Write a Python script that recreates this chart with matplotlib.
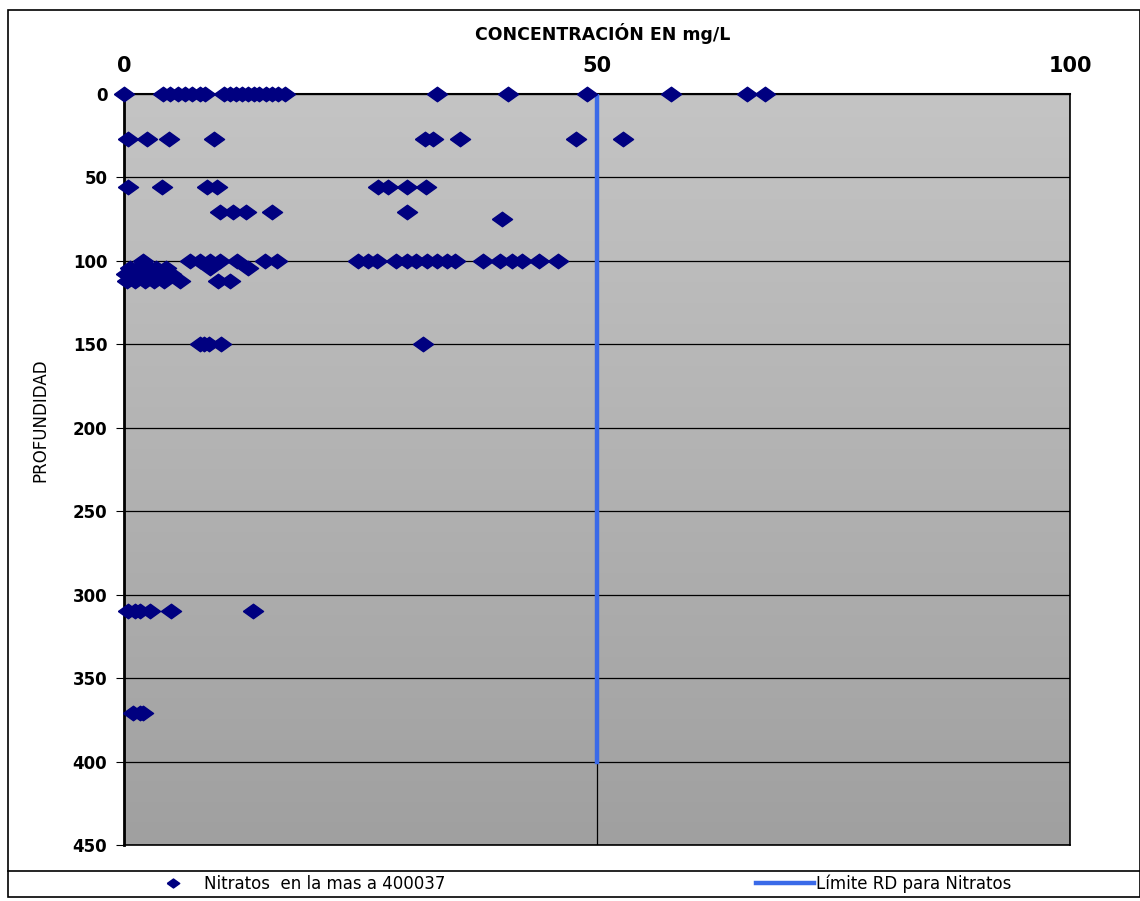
import matplotlib.pyplot as plt
import numpy as np
from matplotlib.lines import Line2D
from matplotlib.patches import Rectangle
from matplotlib.colors import LinearSegmentedColormap

# datos: concentracion (mg/L) y profundidad
conc_0 = [0, 4.1, 4.9, 5.7, 6.4, 7.2, 8.0, 8.6, 10.6, 11.2, 11.8, 12.5, 13.1, 13.7,
          14.3, 15.0, 15.6, 16.3, 17.0, 33.1, 40.6, 48.9, 57.8, 65.9, 67.8]
conc_27 = [0.4, 2.4, 4.8, 9.5, 31.8, 32.7, 35.5, 47.8, 52.7]
conc_56 = [0.4, 4.0, 8.8, 9.8, 26.9, 27.9, 29.9, 31.9]
conc_71 = [10.1, 11.5, 12.9, 15.6, 29.9]
conc_75 = [40.0]
conc_100 = [2.0, 7.0, 8.0, 9.1, 10.1, 11.9, 14.9, 16.2, 24.7, 25.8, 26.7, 28.8, 29.9,
            30.9, 32.0, 33.1, 34.1, 35.0, 37.9, 39.7, 41.0, 42.1, 43.9, 45.9]
conc_104 = [0.6, 1.5, 2.6, 3.4, 4.4, 9.1, 13.1]
conc_108 = [0.2, 1.0, 2.0, 3.0, 4.0, 5.0]
conc_112 = [0.3, 1.2, 2.2, 3.2, 4.2, 5.9, 9.9, 11.2]
conc_150 = [8.0, 8.5, 9.0, 10.3, 31.6]
conc_310 = [0.4, 1.2, 1.7, 2.7, 5.0, 13.6]
conc_371 = [1.0, 1.7, 2.0]

grupos = [(0, conc_0), (27, conc_27), (56, conc_56), (71, conc_71), (75, conc_75),
          (100, conc_100), (104, conc_104), (108, conc_108), (112, conc_112),
          (150, conc_150), (310, conc_310), (371, conc_371)]
concentracion = []
profundidad = []
for prof, valores in grupos:
    concentracion += valores
    profundidad += [prof] * len(valores)

limite_x = [50, 50]
limite_y = [0, 400]

W, H = 1140, 901
fig = plt.figure(figsize=(W / 100, H / 100), dpi=100)
fig.patch.set_facecolor('white')
ax = fig.add_axes([124 / W, 1 - 845 / H, (1070 - 124) / W, (845 - 94) / H])

# fondo degradado
grad = np.linspace(0, 1, 256).reshape(-1, 1)
ax.imshow(grad, cmap=LinearSegmentedColormap.from_list('g', ['#c4c4c4', '#a0a0a0']),
          extent=[0, 1, 0, 1], transform=ax.transAxes, aspect='auto', zorder=0)

ax.set_xlim(0, 100)
ax.set_ylim(450, 0)
ax.set_xticks([0, 50, 100])
ax.set_yticks(range(0, 451, 50))
ax.xaxis.tick_top()
ax.grid(True, color='black', linewidth=0.9, zorder=1)
ax.set_axisbelow(False)
for s in ax.spines.values():
    s.set_linewidth(1.2)
ax.spines['left'].set_linewidth(2)
ax.spines['top'].set_linewidth(1.5)
ax.tick_params(axis='x', length=0, pad=13, labelsize=15)
ax.tick_params(axis='y', length=6, pad=6, labelsize=12)
for lab in ax.get_xticklabels() + ax.get_yticklabels():
    lab.set_fontweight('heavy')
    lab.set_family('DejaVu Sans')

diamante = [(-1, 0), (0, 0.72), (1, 0), (0, -0.72), (-1, 0)]
ax.plot(concentracion, profundidad, linestyle='none', marker=diamante, markersize=14.5,
        color='#000080', clip_on=False, zorder=4)
ax.plot(limite_x, limite_y, color='#3a6ae8', linewidth=3.2, zorder=3)

fig.text(603 / W, 1 - 33 / H, 'CONCENTRACIÓN EN mg/L', ha='center', va='center',
         fontsize=12.5, fontweight='bold', family='DejaVu Sans')
fig.text(40 / W, 1 - 420 / H, 'PROFUNDIDAD', rotation=90, ha='center', va='center',
         fontsize=12, family='DejaVu Sans')

# marco exterior y caja de leyenda
fig.patches.append(Rectangle((8 / W, 1 - 897 / H), (W - 8) / W, (897 - 10) / H,
                             transform=fig.transFigure, fill=False, edgecolor='black',
                             linewidth=1.2))
fig.lines.append(Line2D([8 / W, 1], [1 - 871 / H] * 2, transform=fig.transFigure,
                        color='black', linewidth=1.2))

h1 = Line2D([], [], linestyle='none', marker=diamante, markersize=9, color='#000080')
h2 = Line2D([], [], color='#3a6ae8', linewidth=3.2)
fig.legend([h1, h2], ['Nitratos  en la mas a 400037', 'Límite RD para Nitratos'],
           loc='center', bbox_to_anchor=(137 / W, 1 - 893 / H, (1018 - 137) / W, 18 / H),
           mode='expand', ncol=2, frameon=False, handlelength=3.5, handletextpad=0.1,
           borderaxespad=0, prop={'family': 'DejaVu Sans', 'size': 12})

fig.savefig('out.png', dpi=100)
